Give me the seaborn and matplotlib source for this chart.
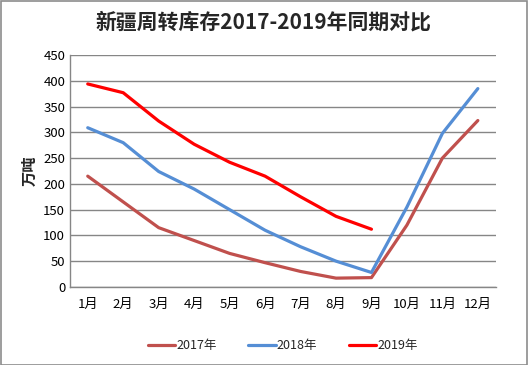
import numpy as np
import pandas as pd
import seaborn as sns
import matplotlib.pyplot as plt

months = ["1月", "2月", "3月", "4月", "5月", "6月", "7月", "8月", "9月", "10月", "11月", "12月"]
y2017 = [215, 165, 115, 90, 65, 47, 30, 17, 18, 120, 250, 323]
y2018 = [309, 280, 224, 190, 150, 110, 78, 50, 28, 155, 298, 385]
y2019 = [394, 377, 322, 277, 242, 215, 175, 137, 112, np.nan, np.nan, np.nan]
series = ["2017年", "2018年", "2019年"]
colors = ["#C0504D", "#558ED5", "#FF0000"]

df = pd.DataFrame({"月份": months, "2017年": y2017, "2018年": y2018, "2019年": y2019})
long = df.melt(id_vars="月份", var_name="年份", value_name="库存").dropna()

sns.set_style("white")
plt.rcParams["font.family"] = ["Noto Sans CJK SC", "DejaVu Sans"]

fig = plt.figure(figsize=(5.28, 3.65), dpi=100)
fig.patches.append(plt.Rectangle((0.001, 0.001), 0.997, 0.996, transform=fig.transFigure,
                                 fill=False, edgecolor="#8c8c8c", linewidth=1.2))
ax = fig.add_axes([0.1326, 0.214, 0.806, 0.635])

sns.lineplot(data=long, x="月份", y="库存", hue="年份", hue_order=series,
             palette=colors, linewidth=2.3, sort=False, ax=ax)

ax.set_xlim(-0.5, 11.5)
ax.set_ylim(0, 450)
ax.set_yticks(range(0, 451, 50))
ax.grid(axis="y", color="#868686", linewidth=1)
ax.set_axisbelow(True)
for s in ["top", "right"]:
    ax.spines[s].set_visible(False)
for s in ["left", "bottom"]:
    ax.spines[s].set_color("#868686")
    ax.spines[s].set_linewidth(1)
ax.tick_params(axis="both", length=0, labelsize=9.5, colors="black")
ax.tick_params(axis="x", pad=8)
ax.set_xlabel("")
ax.set_ylabel("万吨", fontsize=11, fontweight="bold", labelpad=4)

fig.suptitle("新疆周转库存2017-2019年同期对比", fontsize=15, fontweight="bold", y=0.968)

handles, labels = ax.get_legend_handles_labels()
ax.legend(handles, labels, loc="lower center", bbox_to_anchor=(0.5, -0.33), ncol=3,
          frameon=False, fontsize=9, handlelength=2.2, handletextpad=0.1, columnspacing=2.5)

fig.savefig("out.png", dpi=100)
